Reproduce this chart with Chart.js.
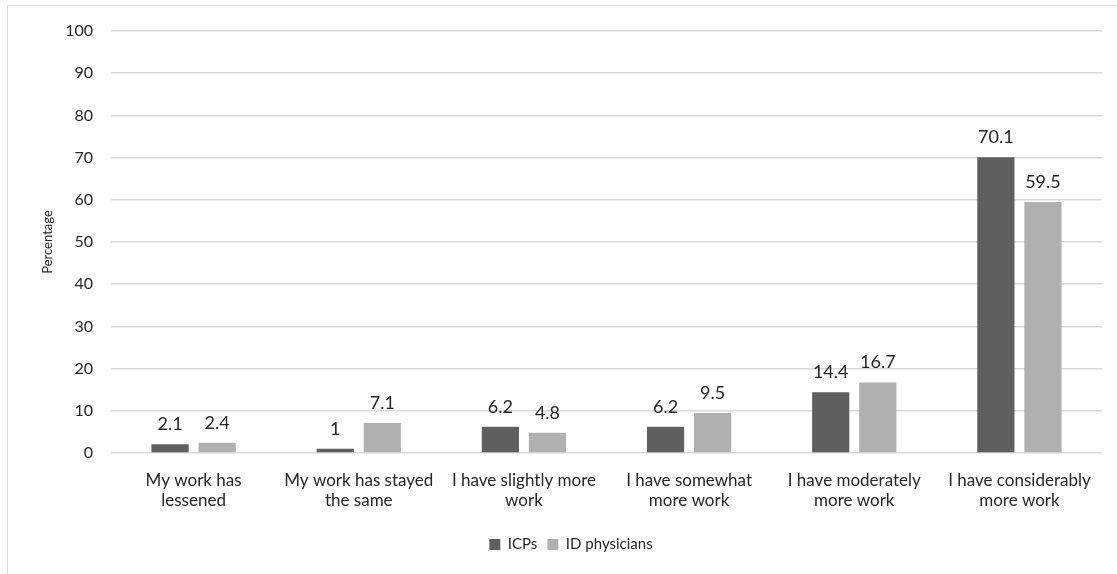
<!DOCTYPE html>
<html>
<head>
<meta charset="utf-8">
<script src="https://cdn.jsdelivr.net/npm/chart.js@4"></script>
<style>
  body { margin: 0; background: #fff; overflow: hidden; }
  #frame { position: absolute; left: 7px; top: 5px; width: 1130px; height: 600px; border: 1.5px solid #d9d9d9; }
  #box { position: absolute; left: 0; top: 0; width: 1117px; height: 574px; }
</style>
</head>
<body>
<div id="frame"></div>
<div id="box"><canvas id="myChart"></canvas></div>
<script>
const categories = [
  ['My work has', 'lessened'],
  ['My work has stayed', 'the same'],
  ['I have slightly more', 'work'],
  ['I have somewhat', 'more work'],
  ['I have moderately', 'more work'],
  ['I have considerably', 'more work']
]
const icpValues = [2.1, 1, 6.2, 6.2, 14.4, 70.1]
const idValues = [2.4, 7.1, 4.8, 9.5, 16.7, 59.5]
const seriesNames = ['ICPs', 'ID physicians']

const fontName = 'Lato, "Open Sans", sans-serif'

// writes the value above every bar
const valueLabels = {
  id: 'valueLabels',
  afterDatasetsDraw(chart) {
    const ctx = chart.ctx
    ctx.save()
    ctx.font = '18px ' + fontName
    ctx.fillStyle = '#262626'
    ctx.textAlign = 'center'
    ctx.textBaseline = 'middle'
    chart.data.datasets.forEach((ds, i) => {
      chart.getDatasetMeta(i).data.forEach((bar, j) => {
        ctx.fillText(ds.data[j], bar.x, bar.y - 20)
      })
    })
    ctx.restore()
  }
}

const ctx = document.getElementById('myChart')
new Chart(ctx, {
  type: 'bar',
  data: {
    labels: categories,
    datasets: [{
      label: seriesNames[0],
      data: icpValues,
      backgroundColor: '#5f5f5f',
      categoryPercentage: 0.57,
      barPercentage: 0.79
    }, {
      label: seriesNames[1],
      data: idValues,
      backgroundColor: '#b0b0b0',
      categoryPercentage: 0.57,
      barPercentage: 0.79
    }]
  },
  options: {
    responsive: true,
    maintainAspectRatio: false,
    animation: false,
    layout: { padding: { top: 31, right: 15, left: 40, bottom: 12 } },
    plugins: {
      tooltip: { enabled: false },
      legend: {
        position: 'bottom',
        labels: {
          boxWidth: 11,
          boxHeight: 11,
          padding: 10,
          color: '#262626',
          font: { family: fontName, size: 15 }
        }
      }
    },
    scales: {
      x: {
        grid: { display: false },
        border: { display: false },
        ticks: {
          color: '#262626',
          maxRotation: 0,
          autoSkip: false,
          padding: 9,
          font: { family: fontName, size: 17, lineHeight: 1.2 }
        },
        afterFit: s => { s.height = 74 }
      },
      y: {
        min: 0,
        max: 100,
        grid: { color: '#d9d9d9', lineWidth: 1.5, drawTicks: false },
        border: { display: false },
        ticks: {
          stepSize: 10,
          padding: 18,
          color: '#262626',
          font: { family: fontName, size: 16 }
        },
        title: {
          display: true,
          text: 'Percentage',
          color: '#262626',
          font: { family: fontName, size: 13 },
          padding: { top: 0, bottom: 14 }
        },
        afterFit: s => { s.width = 71 }
      }
    }
  },
  plugins: [valueLabels]
})
</script>
</body>
</html>
